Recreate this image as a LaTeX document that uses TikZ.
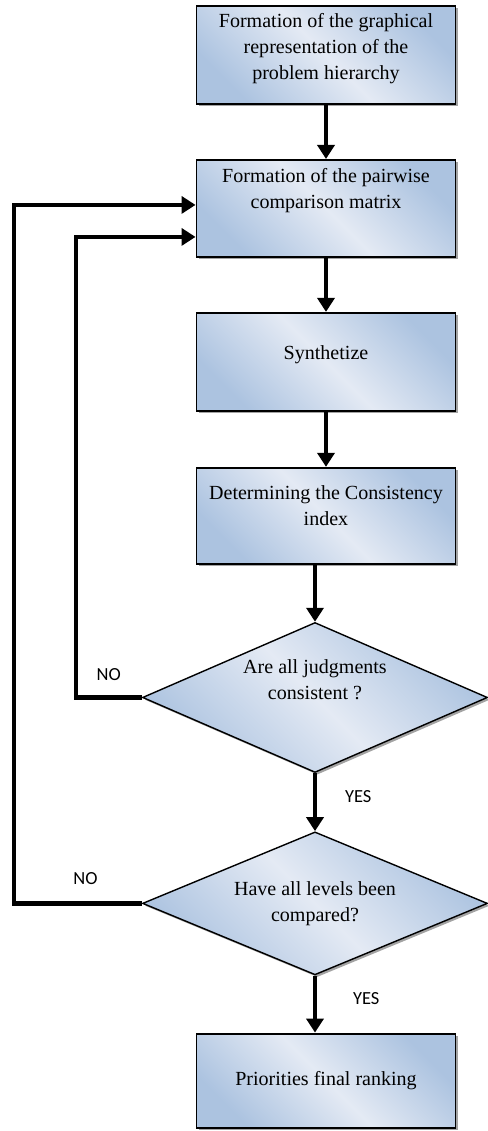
\documentclass[tikz,border=0pt]{standalone}
\usepackage{fontspec}
\setmainfont{Liberation Serif}
\newfontfamily\answerfont{Carlito}
\usepackage{xcolor}
\usetikzlibrary{positioning, arrows.meta, shapes.geometric, shadows}

\definecolor{boxdark}{RGB}{172,195,224}
\definecolor{boxlight}{RGB}{228,234,244}

\begin{document}
\begin{tikzpicture}[
    stepbox/.style={
        rectangle,
        draw,
        line width=1.1pt,
        top color=boxdark, bottom color=boxdark, middle color=boxlight,
        shading angle=-45,
        drop shadow={shadow xshift=1.3pt, shadow yshift=-1.3pt, fill=black!60, opacity=0.6},
        minimum width=5.18cm,
        minimum height=1.96cm,
        align=center,
        font=\fontsize{11.4}{14.8}\selectfont
    },
    decision/.style={
        diamond,
        aspect=2.29,
        draw,
        line width=0.8pt,
        top color=boxdark, bottom color=boxdark, middle color=boxlight,
        shading angle=-45,
        drop shadow={shadow xshift=1.3pt, shadow yshift=-1.3pt, fill=black!60, opacity=0.6},
        minimum width=6.9cm,
        minimum height=3cm,
        inner sep=0pt,
        align=center,
        font=\fontsize{11.4}{14.8}\selectfont
    },
    arrow/.style={
        line width=2.5pt,
        -{Triangle[length=0.28cm, width=0.34cm]}
    },
    answer/.style={
        font=\answerfont\fontsize{10.5}{12}\selectfont
    }
]
\useasboundingbox (0,0) rectangle (9.76,-22.62);

\node[stepbox, text depth=0.33cm] (hierarchy) at (6.52,-1.10) {Formation of the graphical\\representation of the\\problem hierarchy};
\node[stepbox, below=1.08cm of hierarchy, minimum height=1.94cm, text depth=0.81cm] (pairwise) {Formation of the pairwise\\comparison matrix};
\node[stepbox, below=1.08cm of pairwise, text depth=0.37cm] (synthetize) {Synthetize};
\node[stepbox, below=1.1cm of synthetize, minimum height=1.92cm, text height=0.38cm] (consistency) {Determining the Consistency\\index};
\node[decision, below=1.14cm of consistency, xshift=-0.22cm, text depth=0.72cm] (judgments) {Are all judgments\\consistent ?};
\node[decision, below=1.16cm of judgments, minimum height=2.86cm] (levels) {Have all levels been\\compared?};
\node[stepbox, below=1.14cm of levels, xshift=0.22cm, minimum height=1.88cm] (ranking) {Priorities final ranking};

\draw[arrow] (hierarchy) -- (pairwise);
\draw[arrow] (pairwise) -- (synthetize);
\draw[arrow] (synthetize) -- (consistency);
\draw[arrow] (judgments.north |- consistency.south) -- (judgments);
\draw[arrow] (judgments) -- node[answer, right=0.44cm, pos=0.4]{YES} (levels);
\draw[arrow] (levels) -- node[answer, right=0.6cm, pos=0.4]{YES} (levels.south |- ranking.north);

% NO branches back to the pairwise matrix
\draw[arrow] (judgments.west) -- node[answer, above=0.18cm]{NO} ++(-1.32,0) |- ([yshift=-0.57cm]pairwise.west);
\draw[arrow] (levels.west) -- node[answer, above=0.22cm, pos=0.44]{NO} ++(-2.56,0) |- ([yshift=0.07cm]pairwise.west);

\end{tikzpicture}
\end{document}
